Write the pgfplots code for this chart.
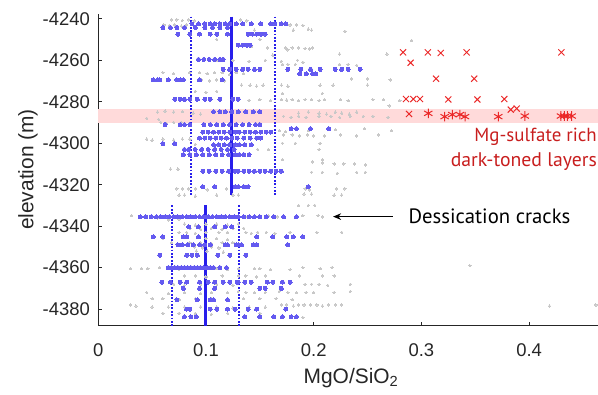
\documentclass[border=0pt]{standalone}
\usepackage{pgfplots}
\pgfplotsset{compat=1.18}
\usepackage{fontspec}
\setmainfont{Liberation Sans}
\newfontfamily\annot{PT Sans}
\usetikzlibrary{arrows.meta}
\definecolor{axgray}{RGB}{38,38,38}
\definecolor{dotgray}{RGB}{200,200,200}
\definecolor{dotblue}{RGB}{100,90,240}
\definecolor{lineblue}{RGB}{40,30,235}
\definecolor{bandpink}{RGB}{255,218,218}
\definecolor{xred}{RGB}{235,40,40}
\definecolor{txtred}{RGB}{200,30,30}
\begin{document}
\begin{tikzpicture}[x=1bp,y=1bp]
\useasboundingbox (0,0) rectangle (598,394);
\begin{axis}[at={(98.3bp,68.3bp)}, anchor=south west, scale only axis,
  width=499.7bp, height=311.7bp,
  xmin=0, xmax=0.464, ymin=-4388, ymax=-4237.7,
  axis x line*=bottom, axis y line*=left,
  axis line style={axgray, line width=0.8bp},
  tick align=inside, major tick length=4bp,
  tick style={axgray, line width=0.8bp},
  xtick={0,0.1,0.2,0.3,0.4}, xticklabels={0,0.1,0.2,0.3,0.4},
  ytick={-4380,-4360,-4340,-4320,-4300,-4280,-4260,-4240},
  yticklabels={-4380,-4360,-4340,-4320,-4300,-4280,-4260,-4240},
  xticklabel style={font=\fontsize{18.5}{20}\selectfont, text=axgray, inner sep=0pt, anchor=north, yshift=-17.6bp},
  yticklabel style={font=\fontsize{18.5}{20}\selectfont, text=axgray, inner sep=0pt, anchor=east, xshift=-8.3bp},
  clip=false,
]
% pink band
\addplot[draw=none, fill=bandpink] coordinates {(0,-4283.5) (0.464,-4283.5) (0.464,-4290.5) (0,-4290.5)} -- cycle;
% gray dots
\addplot[only marks, color=dotgray, mark=*, mark size=1.2bp, mark options={line width=0pt, draw=dotgray, fill=dotgray}] coordinates {
(0.068,-4240.5)(0.073,-4240.5)(0.078,-4240.8)(0.084,-4240.5)(0.089,-4241)(0.132,-4240.5)(0.138,-4241)
(0.061,-4243)(0.066,-4243.2)(0.071,-4243)(0.077,-4243.5)(0.082,-4243)(0.178,-4243)(0.184,-4243)(0.190,-4243.3)
(0.181,-4245.5)(0.198,-4245.5)(0.229,-4246)(0.145,-4245.5)(0.195,-4245)
(0.291,-4250.5)(0.110,-4250)(0.150,-4250)
(0.142,-4253.5)(0.157,-4254)(0.174,-4254)(0.180,-4254)(0.186,-4254)(0.192,-4254.3)(0.199,-4254)(0.196,-4254.5)(0.176,-4255)
(0.224,-4257)(0.268,-4257)(0.162,-4257.5)
(0.110,-4260)(0.125,-4260)(0.140,-4260.5)(0.155,-4260)(0.170,-4260.5)(0.185,-4260)(0.190,-4261)
(0.171,-4262)(0.176,-4262)(0.183,-4262)(0.224,-4262)(0.232,-4262)(0.240,-4262.5)
(0.060,-4266)(0.070,-4266.5)(0.085,-4266)(0.094,-4266)(0.101,-4266.5)(0.108,-4266)(0.115,-4266)(0.122,-4267)(0.128,-4266)(0.135,-4266.5)
(0.096,-4269.5)(0.103,-4270)(0.110,-4269.5)(0.117,-4270)(0.235,-4269)(0.250,-4269)(0.271,-4269.5)
(0.133,-4272)(0.141,-4272)(0.147,-4272.5)(0.153,-4272)(0.170,-4272)(0.176,-4272.5)(0.206,-4272)(0.218,-4272)(0.250,-4272)
(0.171,-4276)(0.208,-4276)(0.090,-4275)(0.100,-4275.5)(0.110,-4275)
(0.170,-4279)(0.175,-4279.2)(0.180,-4279)(0.186,-4279.5)(0.192,-4279)(0.198,-4279)(0.205,-4279.5)(0.210,-4279)(0.225,-4279)(0.232,-4279.5)(0.255,-4279)(0.265,-4279)(0.280,-4279.5)(0.160,-4279.5)(0.150,-4279)(0.140,-4279.3)
(0.270,-4282)
(0.055,-4285)(0.062,-4284.5)(0.070,-4285)(0.078,-4284.8)(0.088,-4285.5)(0.095,-4286)(0.186,-4285.5)(0.195,-4285)(0.205,-4285.5)(0.212,-4286)(0.220,-4285)(0.226,-4285.5)(0.233,-4286)(0.240,-4285)(0.172,-4287)(0.179,-4287.5)(0.186,-4287)(0.193,-4287.5)(0.205,-4287)(0.216,-4287)(0.224,-4287.5)(0.234,-4287)(0.246,-4287)(0.255,-4287)(0.269,-4287.5)(0.045,-4288)(0.056,-4288.5)
(0.058,-4290)(0.063,-4290.5)(0.070,-4290)(0.077,-4290)
(0.172,-4296)(0.180,-4296)(0.187,-4296.5)(0.194,-4296)(0.200,-4296.5)(0.210,-4296.5)(0.225,-4296)(0.240,-4296.5)(0.260,-4296)(0.168,-4294)(0.174,-4294.5)(0.195,-4294)(0.220,-4293.5)(0.247,-4293)(0.272,-4294)
(0.045,-4298)(0.050,-4298.5)(0.060,-4298)(0.070,-4298.5)(0.078,-4298)(0.085,-4298)
(0.171,-4300)(0.183,-4300)(0.206,-4300)(0.090,-4300.5)
(0.148,-4303)(0.158,-4303)(0.205,-4303)
(0.171,-4308)(0.208,-4308)(0.199,-4309)(0.208,-4309.5)(0.219,-4310)(0.228,-4310)(0.238,-4310)(0.248,-4310.5)
(0.067,-4312.5)(0.074,-4312.5)
(0.198,-4314)(0.208,-4314)(0.222,-4314.5)(0.240,-4314)(0.248,-4314)
(0.073,-4322)(0.078,-4322)(0.084,-4322)(0.090,-4322)(0.101,-4322.5)(0.119,-4322)(0.192,-4322)(0.196,-4322.5)(0.221,-4322)(0.229,-4322)
(0.191,-4324.5)(0.198,-4324.5)(0.219,-4325)(0.226,-4325)(0.075,-4325)(0.080,-4325)(0.090,-4325.5)(0.110,-4325)(0.125,-4325)(0.130,-4325)
(0.186,-4330)(0.195,-4330)(0.201,-4330)
(0.031,-4335)(0.055,-4336)(0.065,-4337)(0.075,-4336.5)(0.137,-4335.5)(0.145,-4335)(0.150,-4335.5)(0.158,-4335)(0.166,-4335.5)(0.190,-4335)(0.204,-4335)(0.208,-4335.5)
(0.080,-4339)(0.090,-4339.5)(0.100,-4339)(0.110,-4339)(0.120,-4339.5)(0.130,-4339)(0.085,-4341)(0.095,-4341.5)(0.105,-4341)(0.115,-4341.5)(0.125,-4341)(0.135,-4341)
(0.075,-4343)(0.082,-4343)(0.090,-4343.5)(0.100,-4343)(0.112,-4343)(0.120,-4343)(0.137,-4343)(0.142,-4343.5)(0.148,-4343)(0.156,-4343)(0.164,-4343.5)(0.178,-4343)(0.203,-4343)(0.226,-4343)
(0.060,-4346)(0.100,-4346)(0.110,-4346)(0.120,-4346.5)
(0.068,-4348)(0.078,-4348.5)(0.085,-4348)(0.095,-4348)(0.105,-4348.5)(0.115,-4348)(0.125,-4348)(0.089,-4350)(0.097,-4350.5)(0.105,-4350)(0.112,-4350.5)
(0.091,-4352)(0.101,-4352)(0.116,-4352.5)
(0.345,-4359)(0.190,-4360)(0.206,-4360.5)(0.217,-4360)
(0.030,-4360.5)(0.040,-4360.5)(0.046,-4360.5)(0.057,-4360)(0.065,-4360.5)(0.075,-4361)(0.080,-4360.5)(0.110,-4360.5)(0.120,-4361)(0.130,-4360.5)(0.145,-4360.5)(0.150,-4360.5)(0.160,-4361)(0.178,-4361)
(0.080,-4364)(0.090,-4364)(0.100,-4364.5)(0.115,-4364)(0.130,-4364)(0.137,-4364)(0.147,-4364.5)(0.155,-4364)(0.187,-4364)(0.208,-4364)(0.219,-4364)
(0.192,-4368)(0.198,-4368)(0.205,-4368)(0.213,-4368.5)(0.234,-4368)
(0.070,-4368)(0.080,-4368.5)(0.095,-4368)(0.110,-4368)(0.125,-4368.5)
(0.130,-4371.5)(0.137,-4372)(0.145,-4372)(0.155,-4372)(0.168,-4371.5)(0.176,-4372)(0.184,-4372)(0.193,-4372)(0.200,-4372)(0.219,-4372)(0.234,-4371.5)
(0.045,-4372)(0.065,-4372.5)(0.080,-4372)(0.095,-4372.5)(0.105,-4372)(0.120,-4372)
(0.050,-4375)(0.060,-4375)(0.075,-4375.5)(0.090,-4375)(0.105,-4375)(0.120,-4375.5)(0.135,-4375)(0.150,-4375)(0.165,-4375)(0.180,-4375.5)
(0.170,-4378)(0.175,-4378)(0.181,-4378.5)(0.186,-4378)(0.191,-4378)(0.197,-4378)(0.203,-4378)(0.208,-4378.5)(0.214,-4378)(0.220,-4378)(0.226,-4378)(0.419,-4378.5)(0.462,-4378)
(0.030,-4378)(0.035,-4378.5)(0.050,-4379)(0.065,-4379)(0.080,-4379)(0.095,-4379)(0.110,-4379)(0.125,-4379.5)(0.140,-4379)(0.155,-4379)
(0.060,-4382)(0.075,-4382)(0.090,-4382)(0.105,-4382.5)(0.120,-4382)(0.150,-4382)(0.190,-4384)
};
% blue dots
\addplot[only marks, color=dotblue, mark=*, mark size=2bp, mark options={line width=0pt, draw=dotblue, fill=dotblue}] coordinates {
(0.087,-4242.5)(0.093,-4242.5)(0.099,-4242.5)(0.104,-4242.5)(0.108,-4242.5)(0.113,-4242.5)(0.118,-4242.5)(0.122,-4242.5)(0.128,-4242.5)(0.134,-4242.5)(0.142,-4242.5)(0.151,-4242.5)(0.160,-4242.5)(0.164,-4242.5)(0.170,-4242.5)(0.174,-4242.5)
(0.060,-4244.2)(0.067,-4244.2)(0.073,-4244.2)(0.080,-4244.2)(0.090,-4244.2)(0.099,-4244.2)(0.106,-4244.2)(0.113,-4244.2)(0.120,-4244.2)
(0.074,-4247.4)(0.085,-4247.4)(0.094,-4247.4)(0.104,-4247.4)(0.110,-4247.4)(0.120,-4247.4)(0.139,-4247.4)(0.143,-4247.4)(0.147,-4247.4)(0.151,-4247.4)(0.155,-4247.4)
(0.130,-4252.7)(0.134,-4252.7)(0.138,-4252.7)(0.141,-4252.7)
(0.093,-4259.6)(0.098,-4259.6)(0.103,-4259.6)(0.108,-4259.6)(0.113,-4259.6)(0.116,-4259.6)
(0.116,-4264.4)(0.122,-4264.4)(0.128,-4264.4)(0.134,-4264.4)(0.139,-4264.4)(0.145,-4264.4)(0.150,-4264.4)(0.176,-4264.4)(0.188,-4264.4)(0.197,-4264.4)(0.206,-4264.4)(0.220,-4264.4)(0.226,-4264.4)(0.232,-4264.4)(0.243,-4264.4)
(0.187,-4266.6)(0.193,-4266.6)(0.199,-4266.6)(0.202,-4266.6)
(0.051,-4269.5)(0.055,-4269.5)(0.057,-4269.5)(0.065,-4269.5)(0.073,-4269.5)(0.076,-4269.5)(0.079,-4269.5)(0.094,-4269.5)(0.115,-4269.5)
(0.071,-4278.8)(0.076,-4278.8)(0.080,-4278.8)(0.085,-4278.8)(0.092,-4278.8)(0.099,-4278.8)(0.104,-4278.8)(0.113,-4278.8)(0.125,-4278.8)(0.130,-4278.8)
(0.107,-4284.8)(0.113,-4284.8)(0.118,-4284.8)(0.124,-4284.8)(0.130,-4284.8)(0.137,-4284.8)(0.144,-4284.8)(0.150,-4284.8)
(0.062,-4291)(0.076,-4291)(0.080,-4291)(0.085,-4291)(0.098,-4291)(0.104,-4291)(0.110,-4291)(0.116,-4291)(0.122,-4291)(0.128,-4291)(0.134,-4291)(0.140,-4291)(0.146,-4291)(0.150,-4291)
(0.179,-4293)(0.184,-4293)(0.197,-4293)(0.214,-4293)
(0.097,-4294.6)(0.102,-4294.6)(0.107,-4294.6)(0.112,-4294.6)(0.117,-4294.6)(0.122,-4294.6)(0.127,-4294.6)(0.131,-4294.6)(0.136,-4294.6)(0.141,-4294.6)(0.146,-4294.6)(0.151,-4294.6)(0.156,-4294.6)(0.160,-4294.6)
(0.094,-4297.5)(0.099,-4297.5)(0.104,-4297.5)(0.109,-4297.5)(0.114,-4297.5)(0.119,-4297.5)(0.124,-4297.5)(0.129,-4297.5)(0.135,-4297.5)(0.141,-4297.5)(0.147,-4297.5)(0.151,-4297.5)
(0.060,-4300.2)(0.071,-4300.2)
(0.107,-4300.8)(0.112,-4300.8)(0.117,-4300.8)(0.122,-4300.8)(0.127,-4300.8)(0.131,-4300.8)(0.136,-4300.8)(0.142,-4300.8)
(0.080,-4303)(0.084,-4303)(0.090,-4303)(0.096,-4303)(0.102,-4303)(0.108,-4303)(0.114,-4303)(0.120,-4303)(0.126,-4303)
(0.079,-4305.5)(0.085,-4305.5)(0.091,-4305.5)(0.097,-4305.5)(0.103,-4305.5)(0.109,-4305.5)(0.115,-4305.5)(0.121,-4305.5)(0.127,-4305.5)(0.131,-4305.5)(0.135,-4305.5)(0.140,-4305.5)
(0.097,-4313.5)(0.103,-4313.5)(0.109,-4313.5)(0.115,-4313.5)(0.121,-4313.5)(0.127,-4313.5)(0.130,-4313.5)(0.135,-4313.5)(0.140,-4313.5)(0.145,-4313.5)(0.150,-4313.5)(0.155,-4313.5)(0.160,-4313.5)(0.165,-4313.5)(0.170,-4313.5)
(0.097,-4321)(0.108,-4321)(0.127,-4321)(0.130,-4321)(0.135,-4321)(0.139,-4321)(0.195,-4321)
(0.039,-4335.5)(0.044,-4335.5)(0.049,-4335.5)(0.054,-4335.5)(0.058,-4335.5)(0.062,-4335.5)(0.066,-4335.5)(0.070,-4335.5)(0.074,-4335.5)(0.078,-4335.5)(0.082,-4335.5)(0.086,-4335.5)(0.090,-4335.5)(0.094,-4335.5)(0.098,-4335.5)(0.102,-4335.5)(0.106,-4335.5)(0.110,-4335.5)(0.114,-4335.5)(0.118,-4335.5)(0.122,-4335.5)(0.126,-4335.5)(0.130,-4335.5)(0.135,-4335.5)(0.140,-4335.5)(0.145,-4335.5)(0.150,-4335.5)(0.156,-4335.5)(0.163,-4335.5)(0.172,-4335.5)(0.184,-4335.5)
(0.084,-4340.3)(0.093,-4340.3)(0.108,-4340.3)(0.118,-4340.3)(0.124,-4340.3)
(0.051,-4345.2)(0.060,-4345.2)(0.079,-4345.2)(0.082,-4345.2)(0.093,-4345.2)(0.147,-4345.2)(0.162,-4345.2)(0.175,-4345.2)(0.181,-4345.2)(0.190,-4345.2)
(0.074,-4349)(0.078,-4349)(0.083,-4349)(0.088,-4349)(0.094,-4349)(0.099,-4349)(0.104,-4349)(0.118,-4349)(0.120,-4349)(0.128,-4349)(0.130,-4349)(0.133,-4349)(0.144,-4349)(0.147,-4349)(0.176,-4349)
(0.057,-4354)(0.082,-4354)(0.087,-4354)(0.092,-4354)(0.111,-4354)(0.122,-4354)(0.137,-4354)
(0.065,-4360)(0.068,-4360)(0.071,-4360)(0.074,-4360)(0.077,-4360)(0.080,-4360)(0.083,-4360)(0.086,-4360)(0.089,-4360)(0.092,-4360)(0.095,-4360)(0.098,-4360)(0.101,-4360)(0.104,-4360)(0.107,-4360)(0.113,-4360)(0.119,-4360)
(0.059,-4367)(0.067,-4367)(0.076,-4367)(0.082,-4367)(0.094,-4367)(0.102,-4367)(0.108,-4367)(0.116,-4367)(0.122,-4367)(0.129,-4367)(0.130,-4367)(0.136,-4367)(0.142,-4367)(0.157,-4367)(0.162,-4367)(0.171,-4367)(0.178,-4367)
(0.079,-4370)(0.094,-4370)(0.108,-4370)(0.150,-4370)(0.155,-4370)(0.170,-4370)
(0.073,-4375.5)(0.092,-4375.5)(0.104,-4375.5)(0.107,-4375.5)(0.120,-4375.5)
(0.082,-4380)(0.085,-4380)(0.104,-4380)(0.110,-4380)(0.120,-4380)(0.127,-4380)(0.139,-4380)(0.147,-4380)(0.174,-4380)
(0.080,-4383.7)(0.086,-4383.7)(0.091,-4383.7)(0.136,-4383.7)(0.150,-4383.7)(0.163,-4383.7)(0.171,-4383.7)(0.179,-4383.7)(0.184,-4383.7)
};
% mean and spread lines
\addplot[lineblue, line width=2.8bp] coordinates {(0.124,-4239) (0.124,-4325)};
\addplot[lineblue, line width=2bp, dash pattern=on 1.8bp off 1.6bp] coordinates {(0.0858,-4239) (0.0858,-4325)};
\addplot[lineblue, line width=2bp, dash pattern=on 1.8bp off 1.6bp] coordinates {(0.164,-4239) (0.164,-4325)};
\addplot[lineblue, line width=2.8bp] coordinates {(0.0995,-4330) (0.0995,-4388)};
\addplot[lineblue, line width=2bp, dash pattern=on 1.8bp off 1.6bp] coordinates {(0.068,-4330) (0.068,-4388)};
\addplot[lineblue, line width=2bp, dash pattern=on 1.8bp off 1.6bp] coordinates {(0.1306,-4330) (0.1306,-4388)};
% red crosses
\addplot[only marks, color=xred, mark=x, mark size=4.3bp, mark options={line width=1bp}] coordinates {
(0.283,-4256.2)(0.306,-4256.2)(0.318,-4256.5)(0.342,-4256.2)(0.430,-4256.2)
(0.290,-4261.2)
(0.3136,-4268.9)(0.349,-4268.9)
(0.2857,-4278.7)(0.2925,-4278.7)(0.2987,-4278.7)(0.325,-4278.9)(0.352,-4278.9)(0.377,-4278.7)
(0.383,-4283.8)(0.3885,-4283.3)
(0.2885,-4285.9)
};
% red asterisks
\addplot[only marks, color=xred, mark=asterisk, mark size=4.8bp, mark options={line width=1bp}] coordinates {
(0.3064,-4285.6)(0.3216,-4287.2)(0.3287,-4286.2)(0.3358,-4286.2)(0.3405,-4287.2)(0.3714,-4287.2)(0.396,-4286.9)(0.4296,-4286.9)(0.4327,-4286.9)(0.4355,-4286.9)(0.4396,-4286.9)
};
% arrow
\addplot[black, solid, line width=1.4bp, -{Stealth[length=8bp,width=6.5bp]}] coordinates {(0.2736,-4335.4) (0.218,-4335.4)};
\end{axis}
\node[rotate=90, anchor=base, inner sep=0pt, text=axgray, font=\fontsize{21}{24}\selectfont] at (33.3,224.5) {elevation (m)};
\node[anchor=base, inner sep=0pt, text=axgray, font=\fontsize{21}{24}\selectfont] at (351,10.7) {MgO/SiO\textsubscript{2}};
\node[anchor=base west, inner sep=0pt, font=\annot\fontsize{20.8}{24}\selectfont] at (408.3,170.7) {Dessication cracks};
\node[anchor=base east, inner sep=0pt, text=txtred, font=\annot\fontsize{19}{24}\selectfont] at (597,252.3) {Mg-sulfate rich};
\node[anchor=base east, inner sep=0pt, text=txtred, font=\annot\fontsize{19.8}{24}\selectfont] at (597,227.3) {dark-toned layers};
\end{tikzpicture}
\end{document}
